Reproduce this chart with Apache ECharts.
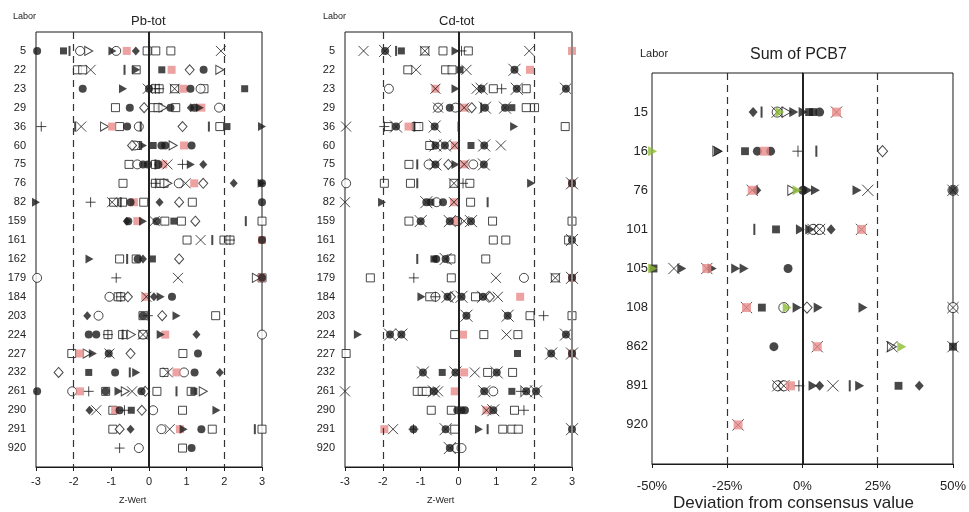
<!DOCTYPE html>
<html><head><meta charset="utf-8">
<script src="https://cdn.jsdelivr.net/npm/echarts@6/dist/echarts.min.js"></script>
<style>html,body{margin:0;padding:0;background:#fff}#c{width:969px;height:512px}</style>
</head><body><div id="c"></div>
<script>
// ---------- categories ----------
const metalLabs = [5,22,23,29,36,60,75,76,82,159,161,162,179,184,203,224,227,232,261,290,291,920];
const pcbLabs = [15,16,76,101,105,108,862,891,920];
const zTicks = [-3,-2,-1,0,1,2,3];
const pctTicks = [-50,-25,0,25,50];

// ---------- Pb-tot  [z-score, lab] ----------
const pbFilledCircle = [[-2.97,5],[1.45,22],[-1.76,23],[0,23],[1.1,23],[-0.51,29],[0.57,29],[1.2,29],[-0.58,36],[0.33,60],[0.43,60],[1.13,60],[-0.16,75],[-0.03,75],[0.25,75],[3,76],[-0.49,82],[3,82],[-0.55,159],[0.2,159],[3,161],[-0.3,162],[3,179],[0.61,184],[-0.16,203],[-1.6,224],[-1.4,224],[-1.07,227],[1.3,227],[-0.9,232],[1.21,232],[-2.97,261],[-1.15,261],[-0.2,261],[-0.78,290],[1.39,291],[1.13,920]];
const pbFilledSquare = [[-2.27,5],[0.34,22],[2.54,23],[2.07,36],[0.11,60],[0.66,159],[0.09,162],[-1.6,232],[1.19,261],[-0.47,290],[3.02,291]];
const pbFilledDiamond = [[-0.35,5],[1.11,29],[1.44,75],[2.25,76],[0.28,82],[-0.59,159],[-0.16,162],[0.13,184],[-1.64,203],[1.26,224],[1.88,232],[-1.58,290],[-0.49,291]];
const pbFilledTriangle = [[-0.97,5],[-0.34,22],[-0.69,23],[1.35,29],[3,36],[-0.16,60],[1.11,75],[2.99,76],[-3,82],[-0.16,159],[-1.58,162],[0.31,184],[0.73,203],[0.31,224],[-1.49,227],[-0.34,232],[-0.81,261],[1.79,290],[0.92,291]];
const pbOpenSquare = [[-0.05,5],[0.18,5],[0.58,5],[-1.9,22],[-1.76,22],[-0.34,22],[0.17,23],[0.27,23],[0.68,23],[1.46,23],[-0.89,29],[0.11,29],[0.24,29],[0.71,29],[-0.78,36],[1.88,36],[-0.3,60],[-0.53,75],[0.17,75],[-0.69,76],[0.17,76],[0.31,76],[0.4,76],[-0.94,82],[-0.7,82],[-0.14,82],[1.15,82],[0.42,159],[0.86,159],[3,159],[1.01,161],[1.99,161],[2.15,161],[-0.78,162],[-0.34,162],[3,179],[-0.82,184],[-0.75,184],[-0.16,203],[1.77,203],[-1.09,224],[-0.7,224],[-0.16,224],[-2.05,227],[0.9,227],[0.4,232],[-1.15,261],[0.21,261],[1.12,261],[-0.96,290],[0.89,290],[-0.96,291],[1.68,291],[3,291],[0.89,920]];
const pbOpenCircle = [[-1.83,5],[-0.87,5],[1.37,23],[1.86,29],[-0.27,36],[-0.38,60],[-0.31,75],[0.79,76],[-2.97,179],[-1.05,184],[-1.34,203],[-0.16,224],[3,224],[0.93,232],[-2.04,261],[0.11,290],[0.33,291],[-0.27,920]];
const pbOpenDiamond = [[1.08,22],[-0.13,29],[0.89,36],[-0.45,60],[1.44,76],[0.8,82],[1.23,159],[0.8,162],[-0.56,184],[0.35,203],[-0.49,227],[-2.4,232],[-0.1,261],[-0.19,290],[-0.78,291]];
const pbOpenTriangle = [[-1.6,5],[1.88,22],[0.37,29],[-1.18,36],[0.64,60],[0.5,76],[2.85,179],[-0.47,224],[-1.64,227],[-0.63,261],[1.44,261]];
const pbCross = [[1.91,5],[-1.55,22],[-0.03,23],[0.68,23],[-1.8,36],[0.49,75],[0.97,76],[-0.98,82],[0.15,159],[1.37,161],[0.77,179],[-0.07,184],[-0.16,224],[-1.05,227],[0.5,232],[-0.45,261],[-1.4,290],[0.55,291]];
const pbPlus = [[-2.86,36],[0.89,75],[0.17,76],[-1.55,82],[2.15,161],[-0.87,179],[-0.75,184],[-0.03,203],[-1.09,224],[-1.6,261],[-0.65,290],[-0.78,920],[0.17,23],[0.27,23]];
const pbBar = [[-2.11,5],[-0.65,22],[-1.96,36],[1.59,36],[-0.22,36],[0.17,75],[-0.75,82],[2.57,159],[1.68,161],[-0.58,162],[-0.7,224],[-0.51,232],[0.73,261],[2.81,291]];
const pbPink = [[-0.59,5],[0.6,22],[0.91,23],[1.39,29],[-0.98,36],[0.93,60],[0.38,75],[1.2,76],[-0.4,82],[-0.31,159],[3,161],[3,179],[-0.1,184],[0.43,224],[-1.83,227],[0.73,232],[-1.83,261],[-0.9,290],[0.82,291]];

// ---------- Cd-tot  [z-score, lab] ----------
const cdCrossDot = [[-1.94,5],[1.48,22],[0.61,23],[1.54,23],[2.84,23],[0.7,29],[1.23,29],[-1.65,36],[-0.63,36],[-0.61,60],[-0.36,60],[0.68,60],[-0.61,75],[0.67,75],[3,76],[-0.85,82],[-1.0,159],[-0.23,159],[0.33,159],[3,161],[-0.34,162],[3,179],[-0.29,184],[0.08,184],[0.65,184],[0.21,203],[1.3,203],[-1.81,224],[-1.51,224],[2.84,224],[2.45,227],[3,227],[-0.94,232],[-0.08,232],[1.01,232],[-0.65,261],[0.68,261],[1.79,261],[2.05,261],[0.92,290],[-0.34,291],[3,291],[-0.23,920]];
const cdCross = [[-2.51,5],[-0.89,5],[1.87,5],[-1.12,22],[0.21,22],[-0.61,23],[0.48,23],[-0.54,29],[0.15,29],[-2.97,36],[-0.1,60],[1.12,60],[0.15,75],[-0.12,76],[-3,82],[-0.12,82],[0.15,159],[0.99,179],[2.56,179],[1.04,184],[1.27,224],[0.43,232],[-3,261],[-0.54,261],[0.74,290],[-1.73,291]];
const cdFilledCircle = [[-0.23,29],[-0.41,82],[-0.59,162],[-0.03,290],[0.08,290],[0.17,290],[-1.19,291]];
const cdFilledSquare = [[-1.51,5],[0.04,22],[1.41,29],[0.33,60],[-0.73,82],[-0.65,162],[1.56,227],[-0.43,232],[1.41,261]];
const cdFilledTriangle = [[-0.08,5],[-0.08,23],[1.47,36],[-0.08,75],[1.92,76],[-2.02,82],[-0.98,184],[-2.66,224],[0.54,291]];
const cdOpenSquare = [[-0.89,5],[-0.41,5],[0.26,5],[-1.34,22],[-0.34,22],[-0.17,22],[0.92,23],[1.79,23],[1.79,29],[2.01,29],[-1.86,36],[-1.12,36],[-1.05,36],[2.82,36],[-0.76,60],[-1.31,75],[-1.96,76],[-1.27,76],[-0.12,76],[0.3,76],[0.32,82],[-1.31,159],[0.9,159],[3,159],[0.92,161],[1.25,161],[2.91,161],[-0.2,162],[0.72,162],[-2.33,179],[-0.19,179],[2.56,179],[-0.76,184],[0.45,184],[1.89,203],[3,203],[-0.1,224],[0.67,224],[1.57,224],[-2.97,227],[0.77,232],[1.43,232],[-1.09,261],[-0.96,261],[-0.85,261],[-0.72,290],[-0.19,290],[1.48,290],[-0.1,291],[1.17,291],[1.41,291],[1.58,291]];
const cdOpenCircle = [[-1.84,23],[-0.54,29],[-0.08,29],[-0.79,75],[0.39,75],[-2.97,76],[-0.58,82],[-0.04,159],[1.73,179],[-0.61,184],[0.92,261],[-0.05,920],[0.08,920]];
const cdOpenDiamond = [[0.35,29],[-0.27,75],[-0.2,184],[0.83,184]];
const cdPlus = [[0.08,5],[1.14,23],[-1.96,36],[0.12,76],[-1.18,179],[-0.61,184],[2.25,203],[1.65,261],[1.73,290],[-1.19,291]];
const cdBar = [[-1.65,5],[3,22],[-1.17,36],[0,36],[-1.09,75],[-1.09,76],[0.77,82],[-1.09,162],[0.77,291],[0.6,29]];
const cdPink = [[3,5],[1.89,22],[-0.61,23],[0.15,29],[-1.32,36],[-0.1,60],[0.15,75],[3,76],[-0.12,82],[-0.08,159],[3,179],[1.63,184],[0.12,224],[3,227],[0.15,232],[-0.1,261],[0.74,290],[-1.96,291]];

// ---------- Sum of PCB7  [% deviation, lab] ----------
const pcbFilledCircle = [[5.7,15],[-15,16],[-10.6,16],[0.1,76],[50,76],[-4.8,105],[-9.5,862]];
const pcbFilledSquare = [[2.2,15],[3.5,15],[-19.1,16],[-8.8,101],[-49.5,105],[-13.5,108],[50,862],[31.9,891]];
const pcbFilledDiamond = [[-16.4,15],[-15.2,76],[9.5,101],[5.7,891],[38.8,891]];
const pcbFilledTriangle = [[-2.9,15],[0.2,15],[-28,16],[1.8,76],[4.3,76],[18.1,76],[-0.7,101],[2.4,101],[-40.1,105],[-30,105],[-22.2,105],[-19.4,105],[-1.8,108],[5.2,108],[20.1,108],[3.5,891],[19,891]];
const pcbOpenTriangle = [[-5.3,15],[-28.3,16],[-3.4,76],[29.7,862]];
const pcbOpenCircle = [[-8.4,15],[3.5,101],[5.7,101],[-6.2,108],[50,108],[-8.2,891],[-6.2,891],[50,76]];
const pcbOpenDiamond = [[26.6,16],[1.5,108]];
const pcbCross = [[-8.4,15],[11.3,15],[-16.7,76],[21.7,76],[50,76],[3.5,101],[5.7,101],[19.6,101],[-42.7,105],[-31.8,105],[-18.6,108],[50,108],[4.9,862],[29.7,862],[50,862],[-8.2,891],[-6.2,891],[10.1,891],[-21.4,920]];
const pcbPlus = [[-1.5,16],[-1.2,891]];
const pcbBar = [[-13.6,15],[4.6,16],[-16,101],[15.7,891]];
const pcbPink = [[11.3,15],[-12.6,16],[-16.7,76],[19.6,101],[-31.8,105],[-18.6,108],[4.9,862],[-4,891],[-21.4,920]];
const pcbGreen = [[-7.5,15],[-49.8,16],[-1.8,76],[-49.8,105],[-5.1,108],[33,862]];

// ---------- styling ----------
const FONT = 'Liberation Sans';
const INK = '#1a1a1a';
const PINK = '#e88b8b';
const GREEN = '#8dbb33';
const CROSS = 'path://M0,0L10,10M10,0L0,10';
const PLUS = 'path://M5,0L5,10M0,5L10,5';

function styles(s) {
  return {
    filledCircle: {symbol:'circle', size:8*s, item:{color:INK}},
    filledSquare: {symbol:'rect', size:7*s, item:{color:INK}},
    filledDiamond: {symbol:'diamond', size:[8*s,9*s], item:{color:INK}},
    filledTriangle: {symbol:'triangle', size:[9*s,8*s], rotate:-90, item:{color:INK}},
    openSquare: {symbol:'rect', size:8*s, item:{color:'#fff', borderColor:INK, borderWidth:1}},
    openCircle: {symbol:'circle', size:9*s, item:{color:'#fff', borderColor:INK, borderWidth:1}},
    openDiamond: {symbol:'diamond', size:[9*s,10*s], item:{color:'#fff', borderColor:INK, borderWidth:1}},
    openTriangle: {symbol:'triangle', size:[9*s,8*s], rotate:-90, item:{color:'#fff', borderColor:INK, borderWidth:1}},
    pink: {symbol:'rect', size:8*s, item:{color:PINK}},
    green: {symbol:'triangle', size:[9*s,8*s], rotate:-90, item:{color:GREEN}},
    bar: {symbol:'rect', size:[2,10*s], item:{color:INK}},
    plus: {symbol:PLUS, size:10*s, item:{color:'none', borderColor:INK, borderWidth:1}},
    cross: {symbol:CROSS, size:10*s, item:{color:'none', borderColor:INK, borderWidth:1}}
  };
}

const series = [];
function add(gi, data, labs, st) {
  series.push({
    type:'scatter', xAxisIndex:gi, yAxisIndex:gi, silent:true, animation:false,
    symbol:st.symbol, symbolSize:st.size, symbolRotate:st.rotate || 0,
    itemStyle:st.item,
    data:data.map(d => [d[0], labs.indexOf(d[1]) + 1])
  });
}
function refLines(gi, dashAt, solidAt, extra) {
  const data = dashAt.map(v => ({xAxis:v, lineStyle:{type:[7,5], color:'#333', width:1.2}}))
    .concat([{xAxis:solidAt, lineStyle:{type:'solid', color:'#222', width:2}}])
    .concat(extra || []);
  series.push({
    type:'scatter', xAxisIndex:gi, yAxisIndex:gi, data:[], silent:true, animation:false,
    markLine:{silent:true, symbol:'none', label:{show:false}, animation:false, data:data}
  });
}

// Pb
let S = styles(1);
refLines(0, [-2,2], 0);
add(0, pbOpenSquare, metalLabs, S.openSquare);
add(0, pbOpenCircle, metalLabs, S.openCircle);
add(0, pbOpenDiamond, metalLabs, S.openDiamond);
add(0, pbOpenTriangle, metalLabs, S.openTriangle);
add(0, pbPink, metalLabs, S.pink);
add(0, pbFilledSquare, metalLabs, S.filledSquare);
add(0, pbFilledCircle, metalLabs, S.filledCircle);
add(0, pbFilledDiamond, metalLabs, S.filledDiamond);
add(0, pbFilledTriangle, metalLabs, S.filledTriangle);
add(0, pbBar, metalLabs, S.bar);
add(0, pbPlus, metalLabs, S.plus);
add(0, pbCross, metalLabs, S.cross);

// Cd
refLines(1, [-2,2], 0, [{xAxis:3, lineStyle:{type:'solid', color:'#888', width:2}}]);
add(1, cdOpenSquare, metalLabs, S.openSquare);
add(1, cdOpenCircle, metalLabs, S.openCircle);
add(1, cdOpenDiamond, metalLabs, S.openDiamond);
add(1, cdPink, metalLabs, S.pink);
add(1, cdFilledSquare, metalLabs, S.filledSquare);
add(1, cdFilledCircle, metalLabs, S.filledCircle);
add(1, cdCrossDot, metalLabs, S.filledCircle);
add(1, cdFilledTriangle, metalLabs, S.filledTriangle);
add(1, cdBar, metalLabs, S.bar);
add(1, cdPlus, metalLabs, S.plus);
add(1, cdCross, metalLabs, S.cross);
add(1, cdCrossDot, metalLabs, Object.assign({}, S.cross, {size:12}));

// PCB
S = styles(1.12);
refLines(2, [-25,25], 0);
add(2, pcbOpenCircle, pcbLabs, S.openCircle);
add(2, pcbOpenDiamond, pcbLabs, S.openDiamond);
add(2, pcbOpenTriangle, pcbLabs, S.openTriangle);
add(2, pcbFilledSquare, pcbLabs, S.filledSquare);
add(2, pcbFilledCircle, pcbLabs, S.filledCircle);
add(2, pcbFilledDiamond, pcbLabs, S.filledDiamond);
add(2, pcbFilledTriangle, pcbLabs, S.filledTriangle);
add(2, pcbBar, pcbLabs, S.bar);
add(2, pcbPlus, pcbLabs, S.plus);
add(2, pcbCross, pcbLabs, S.cross);
add(2, pcbPink, pcbLabs, S.pink);
add(2, pcbGreen, pcbLabs, S.green);

function xAx(gi, min, max, interval, fmt, fs, margin) {
  return {type:'value', gridIndex:gi, min:min, max:max, interval:interval,
    axisLine:{show:true, onZero:false, lineStyle:{color:INK, width:1}},
    axisTick:{show:true, length:4, lineStyle:{color:INK}},
    splitLine:{show:false},
    axisLabel:{fontFamily:FONT, fontSize:fs, color:'#222', margin:margin, formatter:fmt}};
}
function yAx(gi, labs, fs, margin) {
  return {type:'value', gridIndex:gi, inverse:true, min:0, max:labs.length + 1, interval:1,
    axisLine:{show:true, lineStyle:{color:INK, width:1}},
    axisTick:{show:false}, splitLine:{show:false},
    axisLabel:{fontFamily:FONT, fontSize:fs, color:'#222', margin:margin,
      formatter: v => (v >= 1 && v <= labs.length) ? String(labs[v - 1]) : ''}};
}

const option = {
  backgroundColor:'#fff',
  animation:false,
  grid:[
    {left:36, top:32, width:226, height:435, show:true, borderColor:INK, borderWidth:1},
    {left:345, top:32, width:227, height:435, show:true, borderColor:INK, borderWidth:1},
    {left:652, top:73, width:301, height:391, show:true, borderColor:INK, borderWidth:1}
  ],
  xAxis:[
    xAx(0, zTicks[0], zTicks[zTicks.length-1], 1, v => String(v), 11, 9),
    xAx(1, zTicks[0], zTicks[zTicks.length-1], 1, v => String(v), 11, 9),
    xAx(2, pctTicks[0], pctTicks[pctTicks.length-1], 25, v => v + '%', 13, 16)
  ],
  yAxis:[ yAx(0, metalLabs, 11, 10), yAx(1, metalLabs, 11, 10), yAx(2, pcbLabs, 13, 4) ],
  title:[
    {text:'Pb-tot', left:126, top:10, textStyle:{fontFamily:FONT, fontSize:13, fontWeight:'normal', color:'#222'}},
    {text:'Cd-tot', left:434, top:10, textStyle:{fontFamily:FONT, fontSize:13, fontWeight:'normal', color:'#222'}},
    {text:'Sum of PCB7', left:745, top:42, textStyle:{fontFamily:FONT, fontSize:16, fontWeight:'normal', color:'#222'}},
    {text:'Labor', left:8, top:7, textStyle:{fontFamily:FONT, fontSize:9, fontWeight:'normal', color:'#222'}},
    {text:'Labor', left:318, top:7, textStyle:{fontFamily:FONT, fontSize:9, fontWeight:'normal', color:'#222'}},
    {text:'Labor', left:635, top:43, textStyle:{fontFamily:FONT, fontSize:11, fontWeight:'normal', color:'#222'}},
    {text:'Z-Wert', left:114, top:491, textStyle:{fontFamily:FONT, fontSize:9, fontWeight:'normal', color:'#222'}},
    {text:'Z-Wert', left:422, top:491, textStyle:{fontFamily:FONT, fontSize:9, fontWeight:'normal', color:'#222'}},
    {text:'Deviation from consensus value', left:668, top:490, textStyle:{fontFamily:FONT, fontSize:17, fontWeight:'normal', color:'#222'}}
  ],
  series:series
};
echarts.init(document.getElementById('c'), null, {renderer:'canvas'}).setOption(option);
</script></body></html>
